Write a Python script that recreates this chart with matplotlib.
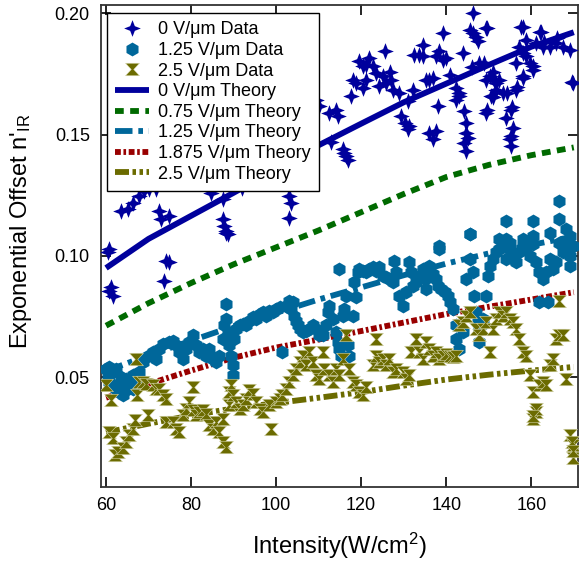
import numpy as np
import matplotlib
matplotlib.use("Agg")
import matplotlib.pyplot as plt
from matplotlib.path import Path

plt.rcParams['font.family'] = ['Liberation Sans', 'DejaVu Sans']
plt.rcParams['mathtext.fontset'] = 'custom'
plt.rcParams['mathtext.rm'] = 'Liberation Sans'
plt.rcParams['mathtext.it'] = 'Liberation Sans:italic'

# ---------------- data ----------------
# 0 V/um data
x0 = [63.5, 65.1, 66.3, 67.8, 69.0, 70.2, 71.8, 60.8, 72.5, 72.9, 74.9, 87.4, 87.8, 88.2, 88.6,
      84.7, 87.4, 103.1, 103.1, 103.5, 103.1, 109.4, 110.2, 112.5, 114.1, 114.5, 115.7, 116.4,
      116.8, 116.0, 118.0, 118.8, 117.6, 120.4, 121.1, 119.6, 120.4, 121.9, 122.7, 123.5, 125.1,
      126.7, 127.0, 124.3, 125.8, 127.4, 129.0, 125.5, 121.1, 129.4, 130.2, 130.9, 131.3, 132.1,
      132.5, 133.7, 134.5, 134.5, 135.3, 136.0, 136.8, 136.0, 136.8, 137.6, 138.0, 137.6, 138.4,
      139.2, 140.0, 139.2, 140.8, 142.3, 143.1, 143.9, 142.3, 143.1, 144.3, 144.7, 144.7, 144.3,
      144.7, 145.1, 145.5, 146.2, 146.2, 147.0, 147.4, 149.4, 147.8, 149.0, 149.4, 150.2, 150.9,
      151.3, 151.7, 151.7, 152.5, 150.5, 149.4, 153.3, 154.1, 155.3, 155.7, 155.3, 155.3, 154.9,
      156.5, 158.0, 157.2, 158.0, 158.8, 159.6, 160.4, 158.0, 156.5, 162.3, 161.1, 162.7, 164.3,
      165.8, 167.4, 169.0, 169.8, 160.4, 158.8, 149.5, 157.7, 162.0, 169.5, 151.0, 154.2, 158.0,
      156.6, 149.5, 155.4, 60.4, 61.2, 61.6, 60.8, 73.7, 74.1, 74.9, 88.2,
      92.0, 97.0, 101.0, 106.0, 113.0, 131.0, 146.0, 163.0, 166.0]
y0 = [0.1185, 0.1192, 0.1219, 0.1247, 0.1267, 0.1274, 0.1274, 0.1028, 0.1185, 0.1151, 0.1165,
      0.1151, 0.1123, 0.1096, 0.1089, 0.1260, 0.1233, 0.1288, 0.1247, 0.1219, 0.1158, 0.1644,
      0.1617, 0.1589, 0.1603, 0.1576, 0.1439, 0.1411, 0.1397, 0.1425, 0.1726, 0.1713, 0.1658,
      0.1692, 0.1726, 0.1802, 0.1781, 0.1815, 0.1781, 0.1754, 0.1740, 0.1760, 0.1726, 0.1699,
      0.1713, 0.1685, 0.1671, 0.1843, 0.1788, 0.1576, 0.1548, 0.1521, 0.1534, 0.1685, 0.1829,
      0.1829, 0.1822, 0.1870, 0.1726, 0.1726, 0.1733, 0.1507, 0.1480, 0.1514, 0.1617, 0.1822,
      0.1843, 0.1808, 0.1815, 0.1918, 0.1747, 0.1692, 0.1671, 0.1836, 0.1644, 0.1658, 0.1596,
      0.1548, 0.1507, 0.1466, 0.1432, 0.1486, 0.1932, 0.2000, 0.1918, 0.1904, 0.1884, 0.1939,
      0.1795, 0.1795, 0.1726, 0.1740, 0.1760, 0.1726, 0.1713, 0.1685, 0.1726, 0.1658, 0.1589,
      0.1671, 0.1569, 0.1603, 0.1528, 0.1493, 0.1452, 0.1480, 0.1795, 0.1836, 0.1863, 0.1945,
      0.1822, 0.1795, 0.1781, 0.1740, 0.1685, 0.1925, 0.1877, 0.1863, 0.1863, 0.1877, 0.1863,
      0.1850, 0.1713, 0.1767, 0.1891, 0.1940, 0.1944, 0.1923, 0.1718, 0.1656, 0.1673, 0.1734,
      0.1697, 0.1600, 0.1615, 0.1014, 0.0870, 0.0836, 0.0857, 0.0898, 0.0980, 0.0973, 0.1103,
      0.1280, 0.1330, 0.1370, 0.1410, 0.1470, 0.1640, 0.1780, 0.1880, 0.1900]

# 1.25 V/um data
x1 = [60.0, 60.4, 60.8, 61.6, 62.3, 63.1, 63.9, 63.9, 64.7, 65.5, 66.3, 67.0, 66.3, 61.6, 62.3,
      63.5, 64.7, 60.8, 67.8, 68.6, 69.8, 71.0, 71.8, 72.5, 73.3, 74.9, 75.7, 76.5, 77.2, 78.0,
      78.8, 79.6, 80.4, 81.2, 81.9, 82.7, 83.5, 84.3, 85.1, 85.9, 86.6, 87.4, 87.8, 88.2, 88.2,
      88.6, 89.0, 89.4, 89.8, 89.8, 90.2, 90.6, 91.4, 92.1, 92.9, 93.7, 94.5, 95.3, 96.1, 96.8,
      97.6, 98.4, 99.2, 100.0, 100.8, 101.5, 102.3, 103.1, 103.5, 103.9, 104.3, 104.7, 105.1,
      105.5, 106.3, 107.0, 107.8, 108.6, 109.4, 110.2, 111.0, 111.7, 112.1, 112.5, 113.3, 114.1,
      114.5, 114.9, 115.3, 114.9, 115.7, 116.0, 116.4, 116.8, 117.2, 118.0, 118.4, 118.8, 119.2,
      119.6, 120.4, 121.1, 121.9, 122.7, 123.5, 124.3, 125.1, 125.8, 126.6, 127.4, 127.8, 128.2,
      129.0, 129.8, 130.5, 131.3, 131.7, 132.1, 132.9, 133.7, 134.5, 134.9, 135.3, 136.0, 136.8,
      137.6, 138.0, 138.4, 138.8, 139.6, 140.4, 140.8, 141.5, 142.3, 142.3, 143.1, 143.9, 144.7,
      145.5, 145.5, 146.2, 146.6, 147.0, 147.4, 147.8, 147.8, 148.2, 148.6, 149.4, 149.8, 150.2,
      150.9, 151.7, 152.5, 153.3, 154.1, 154.1, 154.9, 155.7, 156.5, 157.2, 158.0, 158.8, 159.6,
      160.4, 161.2, 161.9, 161.9, 162.7, 163.5, 163.9, 164.3, 165.1, 165.9, 166.6, 167.4, 168.2,
      169.0, 169.0, 169.8, 169.0, 166.6, 154.1, 160.4, 166.6, 145.5, 138.4, 152.5, 154.9, 158.0,
      160.4, 164.3, 168.2, 167.4, 169.8]
y1 = [0.0535, 0.0507, 0.0480, 0.0466, 0.0452, 0.0439, 0.0425, 0.0480, 0.0494, 0.0466, 0.0452,
      0.0480, 0.0507, 0.0521, 0.0535, 0.0500, 0.0446, 0.0541, 0.0521, 0.0562, 0.0589, 0.0603,
      0.0576, 0.0617, 0.0637, 0.0644, 0.0651, 0.0631, 0.0603, 0.0576, 0.0617, 0.0644, 0.0672,
      0.0631, 0.0603, 0.0617, 0.0589, 0.0617, 0.0576, 0.0562, 0.0589, 0.0658, 0.0713, 0.0740,
      0.0802, 0.0685, 0.0631, 0.0589, 0.0548, 0.0507, 0.0658, 0.0699, 0.0713, 0.0720, 0.0713,
      0.0733, 0.0747, 0.0740, 0.0761, 0.0768, 0.0754, 0.0774, 0.0768, 0.0781, 0.0788, 0.0603,
      0.0795, 0.0815, 0.0781, 0.0809, 0.0754, 0.0733, 0.0713, 0.0699, 0.0685, 0.0692, 0.0699,
      0.0713, 0.0699, 0.0672, 0.0672, 0.0713, 0.0768, 0.0795, 0.0740, 0.0685, 0.0644, 0.0617,
      0.0589, 0.0946, 0.0754, 0.0781, 0.0836, 0.0631, 0.0589, 0.0754, 0.0891, 0.0829, 0.0932,
      0.0946, 0.0939, 0.0932, 0.0946, 0.0952, 0.0939, 0.0952, 0.0918, 0.0911, 0.0905, 0.0891,
      0.0980, 0.0932, 0.0836, 0.0795, 0.0850, 0.0973, 0.0932, 0.0877, 0.0891, 0.0918, 0.0946,
      0.0905, 0.0863, 0.0959, 0.0925, 0.0905, 0.0877, 0.1028, 0.0863, 0.0850, 0.0836, 0.0809,
      0.0781, 0.0713, 0.0658, 0.0617, 0.0685, 0.0905, 0.1089, 0.0987, 0.0932, 0.0836, 0.0768,
      0.0726, 0.0699, 0.0644, 0.0713, 0.0740, 0.0836, 0.0918, 0.0959, 0.0987, 0.1014, 0.1028,
      0.1055, 0.1069, 0.0987, 0.1028, 0.0987, 0.0973, 0.1014, 0.1042, 0.1028, 0.1000, 0.1083,
      0.0973, 0.0932, 0.0809, 0.0905, 0.0932, 0.0809, 0.0987, 0.0946, 0.0973, 0.1055, 0.1014,
      0.1028, 0.1083, 0.1000, 0.1042, 0.0959, 0.1226, 0.1144, 0.1144, 0.1151, 0.1089, 0.1041,
      0.1069, 0.1055, 0.1069, 0.1048, 0.1096, 0.1110, 0.1055, 0.1041]

# 2.5 V/um data
x2 = [60.0, 61.2, 60.8, 61.6, 62.0, 62.7, 63.9, 64.7, 65.5, 66.3, 66.7, 67.0, 67.4, 67.8, 68.6,
      69.4, 69.8, 71.0, 71.8, 72.5, 73.3, 74.1, 74.1, 75.7, 76.5, 77.2, 78.0, 78.8, 79.6, 80.4,
      80.4, 81.2, 81.9, 82.7, 83.5, 84.3, 85.1, 85.9, 86.6, 87.4, 88.2, 87.4, 89.0, 89.0, 89.4,
      89.8, 90.6, 91.4, 92.1, 92.9, 93.7, 94.5, 95.3, 96.1, 96.8, 98.4, 98.8, 100.0, 100.8, 101.5,
      102.3, 103.1, 103.9, 104.7, 105.5, 106.3, 107.0, 107.8, 108.6, 109.4, 110.2, 111.0, 111.3,
      112.5, 113.3, 114.1, 114.9, 115.7, 116.4, 117.2, 118.0, 118.8, 119.6, 120.4, 121.1, 122.7,
      123.5, 123.5, 124.3, 125.1, 125.8, 126.6, 127.4, 128.2, 129.8, 130.5, 131.3, 131.7, 132.9,
      133.7, 134.5, 135.3, 136.0, 136.8, 137.6, 138.4, 139.2, 140.0, 140.8, 141.5, 142.3, 143.1,
      143.9, 144.7, 145.5, 147.0, 147.8, 148.6, 149.4, 150.2, 150.9, 151.7, 152.5, 153.3, 154.1,
      154.9, 155.7, 156.5, 157.2, 158.0, 158.8, 159.6, 160.4, 161.2, 160.4, 161.9, 162.7, 163.5,
      164.3, 165.1, 165.9, 166.6, 167.4, 166.6, 168.2, 169.0, 169.8, 169.8, 161.2, 160.3, 169.5,
      169.7]
y2 = [0.0466, 0.0404, 0.0274, 0.0247, 0.0178, 0.0192, 0.0206, 0.0233, 0.0261, 0.0288, 0.0322,
      0.0576, 0.0425, 0.0480, 0.0480, 0.0473, 0.0343, 0.0466, 0.0452, 0.0452, 0.0425, 0.0411,
      0.0315, 0.0315, 0.0288, 0.0274, 0.0343, 0.0370, 0.0398, 0.0459, 0.0363, 0.0343, 0.0357,
      0.0363, 0.0350, 0.0302, 0.0288, 0.0315, 0.0274, 0.0233, 0.0213, 0.0329, 0.0384, 0.0439,
      0.0466, 0.0425, 0.0398, 0.0370, 0.0384, 0.0411, 0.0446, 0.0432, 0.0398, 0.0370, 0.0357,
      0.0384, 0.0288, 0.0398, 0.0411, 0.0425, 0.0452, 0.0480, 0.0507, 0.0535, 0.0562, 0.0589,
      0.0548, 0.0603, 0.0562, 0.0507, 0.0494, 0.0603, 0.0535, 0.0507, 0.0480, 0.0535, 0.0507,
      0.0576, 0.0672, 0.0535, 0.0480, 0.0466, 0.0439, 0.0425, 0.0459, 0.0548, 0.0589, 0.0658,
      0.0562, 0.0576, 0.0548, 0.0576, 0.0521, 0.0535, 0.0521, 0.0494, 0.0507, 0.0603, 0.0658,
      0.0603, 0.0576, 0.0644, 0.0617, 0.0589, 0.0603, 0.0576, 0.0589, 0.0596, 0.0589, 0.0583,
      0.0589, 0.0713, 0.0726, 0.0754, 0.0768, 0.0699, 0.0672, 0.0699, 0.0726, 0.0603, 0.0699,
      0.0740, 0.0768, 0.0754, 0.0768, 0.0740, 0.0726, 0.0699, 0.0658, 0.0603, 0.0589, 0.0507,
      0.0439, 0.0357, 0.0329, 0.0466, 0.0480, 0.0466, 0.0548, 0.0576, 0.0658, 0.0672, 0.0672,
      0.0815, 0.0494, 0.0261, 0.0220, 0.0165, 0.0370, 0.0341, 0.0234, 0.0197]

# theory curves
xt = [60, 70, 80, 90, 100, 110, 120, 130, 140, 150, 160, 170]
t_0 = [0.0950, 0.1070, 0.1165, 0.1260, 0.1357, 0.1456, 0.1545, 0.1633, 0.1710, 0.1787, 0.1862, 0.1922]
t_075 = [0.0712, 0.0805, 0.0888, 0.0965, 0.1035, 0.1105, 0.1180, 0.1255, 0.1325, 0.1375, 0.1415, 0.1447]
t_125 = [0.0525, 0.0590, 0.0650, 0.0710, 0.0765, 0.0820, 0.0870, 0.0920, 0.0968, 0.1010, 0.1045, 0.1080]
t_1875 = [0.0415, 0.0472, 0.0527, 0.0580, 0.0622, 0.0655, 0.0690, 0.0725, 0.0760, 0.0790, 0.0820, 0.0850]
t_25 = [0.0272, 0.0308, 0.0342, 0.0371, 0.0393, 0.0415, 0.0438, 0.0465, 0.0490, 0.0510, 0.0527, 0.0542]

labels_data = ['0 V/\u03bcm Data', '1.25 V/\u03bcm Data', '2.5 V/\u03bcm Data']
labels_theory = ['0 V/\u03bcm Theory', '0.75 V/\u03bcm Theory', '1.25 V/\u03bcm Theory',
                 '1.875 V/\u03bcm Theory', '2.5 V/\u03bcm Theory']
xticks = [60, 80, 100, 120, 140, 160]
yticks = [0.05, 0.10, 0.15, 0.20]

# ---------------- styles ----------------
c_navy = '#00009c'
c_green = '#006a00'
c_blue = '#00679a'
c_red = '#990000'
c_olive = '#6b6b00'

star = Path([(0, 1), (0.28, 0.28), (1, 0), (0.28, -0.28), (0, -1), (-0.28, -0.28),
             (-1, 0), (-0.28, 0.28), (0, 1)], closed=True)
hourglass = Path([(-1, 0.9), (1, 0.9), (0.18, 0.0), (1, -0.9), (-1, -0.9), (-0.18, 0.0),
                  (-1, 0.9)], closed=True)

fig = plt.figure(figsize=(5.8, 5.63), dpi=100)
ax = fig.add_axes([0.174, 0.135, 0.8226, 0.856])

lw = 4.2
h_t0, = ax.plot(xt, t_0, color=c_navy, lw=lw, solid_capstyle='butt', zorder=2)
h_t1, = ax.plot(xt, t_075, color=c_green, lw=lw, dashes=(1.5, 1.1), zorder=2)
h_t2, = ax.plot(xt, t_125, color=c_blue, lw=lw, dashes=(3.0, 1.0, 0.8, 1.0), zorder=2)
h_t3, = ax.plot(xt, t_1875, color=c_red, lw=lw, dashes=(1.0, 0.45, 0.45, 0.45), zorder=2)
h_t4, = ax.plot(xt, t_25, color=c_olive, lw=lw, dashes=(2.4, 0.6, 0.6, 0.6, 0.6, 0.6), zorder=2)

h_d0, = ax.plot(x0, y0, ls='none', marker=star, ms=12, color=c_navy, mec='none', zorder=3)
h_d1, = ax.plot(x1, y1, ls='none', marker='h', ms=10, color=c_blue, mec='none', zorder=3)
h_d2, = ax.plot(x2, y2, ls='none', marker=hourglass, ms=10, color=c_olive, mec='#d8d8b0',
                mew=0.4, zorder=3)

ax.set_xlim(58.8, 171.0)
ax.set_ylim(0.0047, 0.2034)
ax.set_xticks(xticks)
ax.set_xticklabels([str(v) for v in xticks])
ax.set_yticks(yticks)
ax.set_yticklabels(['%.2f' % v for v in yticks])
ax.tick_params(direction='in', length=7, width=1.2, top=True, right=True,
               labelsize=13, colors='black')
ax.tick_params(axis='x', pad=7)
ax.tick_params(axis='y', pad=8)
for s in ax.spines.values():
    s.set_linewidth(1.3)
    s.set_color('#333333')

ax.set_xlabel('Intensity(W/cm$^{2}$)', fontsize=17, labelpad=12)
ax.set_ylabel("Exponential Offset n'$_{\\mathrm{IR}}$", fontsize=17)
ax.yaxis.set_label_coords(-0.14, 0.53)

leg = ax.legend([h_d0, h_d1, h_d2, h_t0, h_t1, h_t2, h_t3, h_t4],
                labels_data + labels_theory,
                loc='upper left', bbox_to_anchor=(0.0126, 0.983), borderaxespad=0,
                fontsize=13, numpoints=1, handlelength=1.9, handletextpad=0.5,
                labelspacing=0.2, borderpad=0.45, fancybox=False, framealpha=1,
                edgecolor='black')
leg.get_frame().set_linewidth(1.0)
leg.set_zorder(5)

fig.savefig('out.png', dpi=100)
